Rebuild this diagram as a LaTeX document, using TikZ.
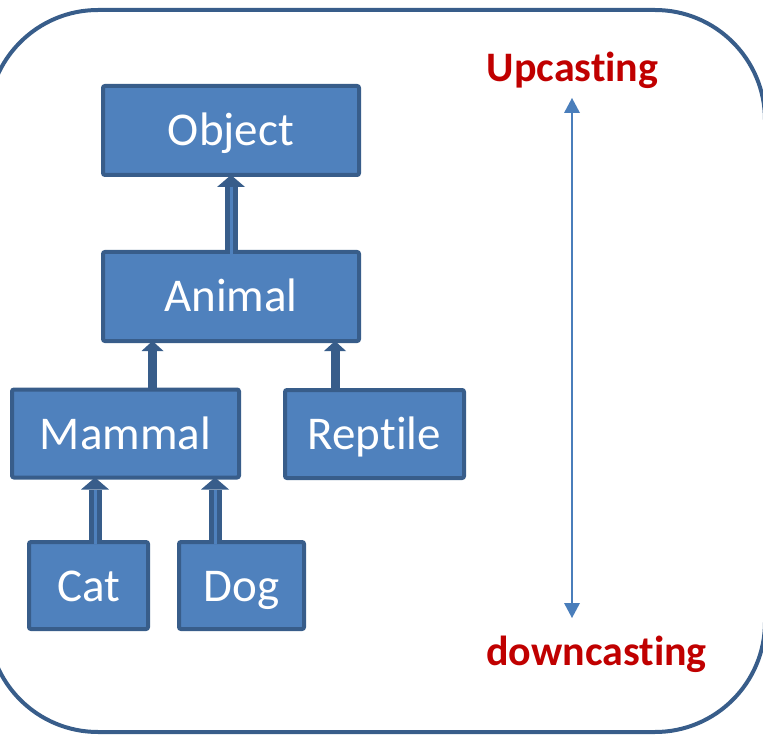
\documentclass[tikz,border=0pt]{standalone}
\usepackage{fontspec}
\setmainfont{Carlito}[Ligatures={NoCommon,NoContextual,NoRare}]
\usetikzlibrary{arrows.meta}
\definecolor{boxfill}{HTML}{4F81BD}
\definecolor{boxline}{HTML}{385D8A}
\definecolor{redtxt}{HTML}{C00000}
\definecolor{arrowblue}{HTML}{4A7EBB}
\begin{document}
\begin{tikzpicture}[x=1pt,y=-1pt,
  cls/.style={draw=boxline, fill=boxfill, line width=4pt, rounded corners=2pt,
    text=white, font=\fontsize{47}{56}\selectfont, text height=31pt,
    text depth=0pt, inner sep=0pt, outer sep=0pt, minimum height=89pt},
  lbl/.style={text=redtxt, font=\bfseries\fontsize{42}{50}\selectfont,
    anchor=base, inner sep=0pt},
  dblarrow/.style={boxline, line width=13pt,
    -{Triangle[width=28pt,length=12pt,line width=0pt]}},
  stripe/.style={boxfill, line width=3pt},
  solidarrow/.style={boxline, line width=9pt,
    -{Triangle[width=22pt,length=10pt,line width=0pt]}},
  castarrow/.style={arrowblue, line width=2pt,
    {Triangle[width=16pt,length=15pt,line width=0pt]}-{Triangle[width=16pt,length=15pt,line width=0pt]}},
  frame/.style={boxline, line width=4pt, rounded corners=110pt}
]
\useasboundingbox (0,0) rectangle (763,735);
\draw[frame] (-12,10) rectangle (765,732);

\node[cls, minimum width=256pt] (object) at (231,130.5) {Object};
\node[cls, minimum width=256pt] (animal) at (231,296.5) {Animal};
\node[cls, minimum width=227pt, minimum height=88pt] (mammal) at (125.5,433.5) {Mammal};
\node[cls, minimum width=179pt, minimum height=88pt] (reptile) at (374.5,434) {Rept\kern0pt ile};
\node[cls, minimum width=119pt, minimum height=87pt] (cat) at (88.5,585.5) {Cat};
\node[cls, minimum width=125pt, minimum height=87pt] (dog) at (241.5,585.5) {Dog};

% Animal -> Object
\draw[dblarrow] (animal.north) -- (object.south);
\draw[stripe] ([yshift=-2pt]animal.north) -- ([yshift=-12pt]object.south);

% Mammal, Reptile -> Animal
\draw[solidarrow] ([xshift=27pt]mammal.north) -- ([xshift=27pt]mammal.north |- animal.south);
\draw[solidarrow] ([xshift=-39.5pt]reptile.north) -- ([xshift=-39.5pt]reptile.north |- animal.south);

% Cat, Dog -> Mammal
\draw[dblarrow] ([xshift=6.5pt]cat.north) -- ([xshift=6.5pt]cat.north |- mammal.south);
\draw[stripe] ([xshift=6.5pt,yshift=-2pt]cat.north) -- ([xshift=6.5pt,yshift=-12pt]cat.north |- mammal.south);
\draw[dblarrow] ([xshift=-26.5pt]dog.north) -- ([xshift=-26.5pt]dog.north |- mammal.south);
\draw[stripe] ([xshift=-26.5pt,yshift=-2pt]dog.north) -- ([xshift=-26.5pt,yshift=-12pt]dog.north |- mammal.south);

% Casting labels and arrow
\node[lbl] (up) at (572.5,82) {Upcast\kern0pt ing};
\node[lbl] (down) at (596.5,665) {downcast\kern0pt ing};
\coordinate (atop) at (572,98);
\coordinate (abot) at (572,618);
\draw[castarrow] (atop) -- (abot);
\end{tikzpicture}
\end{document}
